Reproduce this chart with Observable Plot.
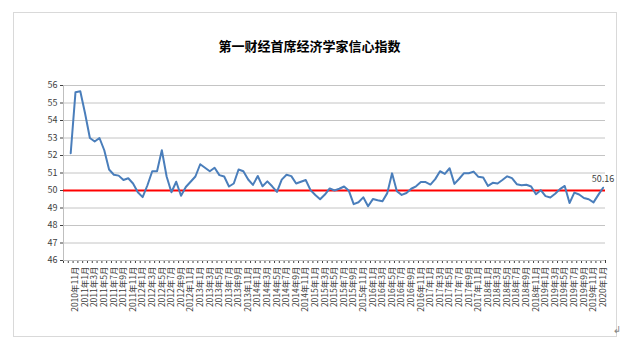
<!DOCTYPE html>
<html>
<head>
<meta charset="utf-8">
<script src="https://cdn.jsdelivr.net/npm/d3@7"></script>
<script src="https://cdn.jsdelivr.net/npm/@observablehq/plot@0.6"></script>
<style>
  html, body { margin: 0; padding: 0; background: #fff; }
  #wrap { position: relative; width: 627px; height: 355px; overflow: hidden; background: #fff; }
  #frame { position: absolute; left: 13px; top: 12px; width: 602px; height: 323px; border: 1px solid #d9d9d9; pointer-events: none; }
  #title { position: absolute; left: 0; top: 36px; width: 619px; text-align: center; font-family: "Noto Sans CJK SC", sans-serif; font-weight: bold; font-size: 13px; color: #000; }
  #chart { position: absolute; left: 0; top: 60px; }
  #mark { position: absolute; left: 613px; top: 324px; font-size: 10px; color: #888; font-family: "DejaVu Sans", sans-serif; }
</style>
</head>
<body>
<div id="wrap">
  <div id="frame"></div>
  <div id="title">第一财经首席经济学家信心指数</div>
  <div id="chart"></div>
  <div id="mark">↲</div>
</div>
<script>
// Monthly index, 2010年10月 to 2020年1月
const startYear = 2010;
const startMonth = 10;
const values = [
  52.13, 55.62, 55.67, 54.4, 53.0, 52.8, 53.0, 52.3, 51.2, 50.9,
  50.85, 50.6, 50.7, 50.4, 49.9, 49.62, 50.3, 51.1, 51.1, 52.3,
  50.8, 49.9, 50.5, 49.7, 50.2, 50.5, 50.8, 51.5, 51.3, 51.1,
  51.3, 50.88, 50.8, 50.23, 50.4, 51.2, 51.1, 50.63, 50.32, 50.83,
  50.24, 50.52, 50.24, 49.92, 50.62, 50.9, 50.82, 50.4, 50.5, 50.6,
  50.02, 49.74, 49.5, 49.77, 50.12, 50.0, 50.1, 50.23, 49.98, 49.22,
  49.33, 49.61, 49.1, 49.51, 49.44, 49.38, 49.85, 50.98, 49.96, 49.75,
  49.86, 50.1, 50.24, 50.48, 50.48, 50.34, 50.65, 51.1, 50.95, 51.27,
  50.38, 50.67, 50.99, 50.99, 51.08, 50.78, 50.74, 50.26, 50.44, 50.4,
  50.6, 50.81, 50.71, 50.36, 50.3, 50.33, 50.23, 49.79, 50.02, 49.68,
  49.6, 49.81, 50.08, 50.26, 49.28, 49.88, 49.77, 49.57, 49.5, 49.32,
  49.75, 50.16
];
const yTicks = [46, 47, 48, 49, 50, 51, 52, 53, 54, 55, 56];
const refValue = 50;
const lastLabel = "50.16";

const months = values.map((v, i) => {
  const m0 = startMonth - 1 + i;
  return `${startYear + Math.floor(m0 / 12)}年${(m0 % 12) + 1}月`;
});
const data = values.map((v, i) => ({i, v, month: months[i]}));
const labelled = data.filter((d, k) => k % 2 === 1);
const boundaries = d3.range(-1.5, values.length + 0.5, 1);

const chart = Plot.plot({
  width: 627,
  height: 295,
  marginLeft: 63,
  marginRight: 22,
  marginTop: 25,
  marginBottom: 95,
  style: {fontFamily: "'Noto Sans CJK SC', sans-serif", fontSize: "9px", color: "#404040", background: "transparent", overflow: "visible"},
  x: {domain: [-1.5, values.length - 0.5], ticks: boundaries, tickFormat: () => "", tickSize: 3, label: null},
  y: {domain: [46, 56], ticks: yTicks, tickSize: 3, tickPadding: 3, label: null},
  marks: [
    Plot.ruleY(yTicks.filter(t => t > 46), {stroke: "#c4c4c4", strokeWidth: 1}),
    Plot.ruleX([-1.5], {stroke: "#bfbfbf"}),
    Plot.ruleY([46], {stroke: "#bfbfbf"}),
    Plot.ruleY([refValue], {stroke: "#ff0000", strokeWidth: 2}),
    Plot.line(data, {x: "i", y: "v", stroke: "#4a7ebb", strokeWidth: 2, strokeLinejoin: "round"}),
    Plot.text(data.slice(-1), {x: "i", y: "v", text: () => lastLabel, dy: -9, fontSize: 9, fill: "#404040"}),
    Plot.text(labelled, {x: "i", y: () => 46, text: "month", rotate: -90, textAnchor: "end", dy: 6, fontSize: 8.5, fill: "#404040"})
  ]
});
document.getElementById("chart").appendChild(chart);
</script>
</body>
</html>
